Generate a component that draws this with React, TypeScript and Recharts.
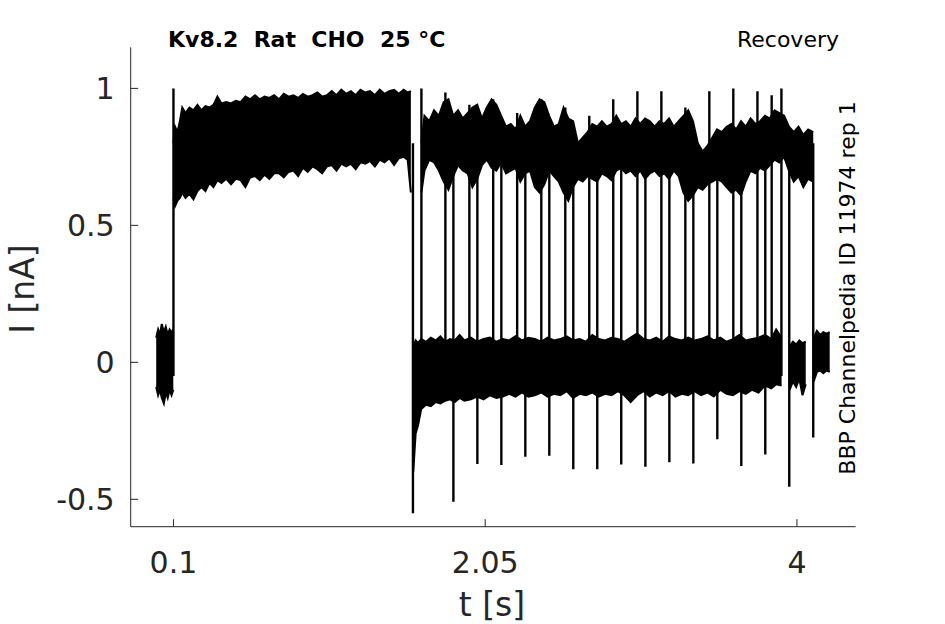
import React from "react";
import { ComposedChart, Area, Line, XAxis, YAxis } from "recharts";

// axis ticks
const xTicks = [0.1, 2.05, 4];
const yTicks = [-0.5, 0, 0.5, 1];

// holding current before the conditioning step
const preTime = [-0.008, 0.004, 0.015, 0.027, 0.04, 0.052, 0.064, 0.076, 0.088, 0.099];
const preTop = [0.09, 0.12, 0.1, 0.14, 0.11, 0.13, 0.1, 0.12, 0.11, 0.12];
const preBottom = [-0.09, -0.12, -0.1, -0.13, -0.15, -0.11, -0.13, -0.1, -0.12, -0.1];

// conditioning pulse, all sweeps overlaid (noise envelope)
const condTime = [
  0.1, 0.11, 0.125, 0.14, 0.155, 0.175, 0.2, 0.225, 0.25, 0.275, 0.3, 0.325, 0.35, 0.375, 0.4,
  0.43, 0.46, 0.49, 0.52, 0.55, 0.58, 0.61, 0.64, 0.67, 0.7, 0.73, 0.76, 0.79, 0.82, 0.85, 0.88,
  0.91, 0.94, 0.97, 1.0, 1.03, 1.06, 1.09, 1.12, 1.15, 1.18, 1.21, 1.24, 1.27, 1.3, 1.33, 1.36,
  1.39, 1.42, 1.45, 1.48, 1.51, 1.54, 1.565, 1.585,
];
const condTop = [
  0.8, 0.86, 0.84, 0.88, 0.93, 0.91, 0.93, 0.92, 0.94, 0.92, 0.935, 0.93, 0.94, 0.97, 0.945,
  0.95, 0.945, 0.955, 0.95, 0.97, 0.96, 0.975, 0.96, 0.97, 0.965, 0.975, 0.96, 0.98, 0.97, 0.975,
  0.965, 0.98, 0.97, 0.975, 0.985, 0.97, 0.975, 0.99, 0.975, 0.995, 0.98, 0.99, 0.975, 0.995,
  0.985, 0.99, 0.975, 0.995, 0.98, 0.99, 0.995, 0.98, 0.995, 0.985, 0.99,
];
const condBottom = [
  0.6, 0.57, 0.59, 0.6, 0.62, 0.6, 0.615, 0.595, 0.625, 0.64, 0.625, 0.655, 0.64, 0.665, 0.655,
  0.67, 0.65, 0.67, 0.665, 0.64, 0.675, 0.68, 0.665, 0.685, 0.67, 0.69, 0.69, 0.675, 0.695, 0.7,
  0.68, 0.71, 0.695, 0.715, 0.705, 0.69, 0.715, 0.72, 0.7, 0.725, 0.715, 0.725, 0.705, 0.73,
  0.725, 0.735, 0.715, 0.74, 0.73, 0.745, 0.72, 0.745, 0.75, 0.74, 0.62,
];

// sweeps back at holding level during the recovery interval
const restTime = [
  1.6, 1.615, 1.63, 1.65, 1.68, 1.71, 1.74, 1.77, 1.8, 1.83, 1.86, 1.89, 1.92, 1.96, 2.0, 2.04,
  2.08, 2.12, 2.16, 2.2, 2.24, 2.28, 2.32, 2.36, 2.4, 2.44, 2.48, 2.52, 2.56, 2.6, 2.64, 2.68,
  2.72, 2.76, 2.8, 2.84, 2.88, 2.92, 2.96, 3.0, 3.04, 3.08, 3.12, 3.16, 3.2, 3.24, 3.28, 3.32,
  3.36, 3.4, 3.44, 3.48, 3.52, 3.56, 3.6, 3.64, 3.68, 3.72, 3.76, 3.8, 3.84, 3.87, 3.904,
];
const restTop = [
  0.06, 0.08, 0.07, 0.085, 0.075, 0.09, 0.08, 0.095, 0.075, 0.085, 0.08, 0.1, 0.08, 0.09, 0.075,
  0.085, 0.09, 0.075, 0.085, 0.08, 0.095, 0.08, 0.09, 0.085, 0.075, 0.09, 0.08, 0.085, 0.095,
  0.08, 0.085, 0.075, 0.1, 0.085, 0.08, 0.09, 0.085, 0.075, 0.09, 0.105, 0.085, 0.08, 0.09,
  0.075, 0.095, 0.085, 0.08, 0.09, 0.08, 0.085, 0.095, 0.08, 0.09, 0.075, 0.085, 0.1, 0.08,
  0.085, 0.09, 0.1, 0.085, 0.12, 0.09,
];
const restBottom = [
  -0.4, -0.26, -0.23, -0.17, -0.155, -0.16, -0.145, -0.15, -0.14, -0.135, -0.145, -0.13, -0.14,
  -0.135, -0.125, -0.135, -0.12, -0.13, -0.125, -0.115, -0.125, -0.11, -0.125, -0.12, -0.11,
  -0.125, -0.115, -0.12, -0.105, -0.13, -0.115, -0.12, -0.11, -0.125, -0.115, -0.12, -0.105,
  -0.12, -0.145, -0.12, -0.105, -0.125, -0.11, -0.12, -0.105, -0.125, -0.115, -0.12, -0.105,
  -0.12, -0.11, -0.125, -0.1, -0.115, -0.12, -0.105, -0.115, -0.1, -0.11, -0.085, -0.095,
  -0.08, -0.085,
];

// short holding pieces at the end of the record
const endATime = [3.955, 3.975, 3.995, 4.015, 4.035, 4.055];
const endATop = [0.06, 0.075, 0.065, 0.08, 0.07, 0.075];
const endABottom = [-0.1, -0.07, -0.09, -0.06, -0.12, -0.08];
const endBTime = [4.105, 4.125, 4.145, 4.165, 4.185, 4.205];
const endBTop = [0.09, 0.115, 0.1, 0.11, 0.105, 0.11];
const endBBottom = [-0.07, -0.035, -0.03, -0.04, -0.03, -0.035];

// test pulses (overlapping sweeps)
const testTime = [
  1.651, 1.67, 1.7, 1.73, 1.76, 1.79, 1.82, 1.85, 1.88, 1.91, 1.94, 1.97, 2.0, 2.03, 2.06, 2.09,
  2.12, 2.15, 2.18, 2.21, 2.24, 2.27, 2.3, 2.33, 2.36, 2.39, 2.42, 2.45, 2.48, 2.51, 2.54, 2.57,
  2.6, 2.63, 2.66, 2.69, 2.72, 2.75, 2.78, 2.81, 2.84, 2.87, 2.9, 2.93, 2.96, 2.99, 3.02, 3.05,
  3.08, 3.11, 3.14, 3.17, 3.2, 3.23, 3.26, 3.29, 3.32, 3.35, 3.38, 3.41, 3.44, 3.47, 3.5, 3.53,
  3.56, 3.59, 3.62, 3.65, 3.68, 3.71, 3.74, 3.77, 3.8, 3.83, 3.86, 3.89, 3.92, 3.95, 3.98, 4.01,
  4.04, 4.07, 4.102,
];
const testTop = [
  0.8, 0.9, 0.88, 0.92, 0.9, 0.95, 0.96, 0.9, 0.92, 0.89, 0.91, 0.93, 0.94, 0.89, 0.93, 0.96,
  0.94, 0.9, 0.86, 0.87, 0.85, 0.9, 0.86, 0.88, 0.93, 0.96, 0.95, 0.9, 0.86, 0.87, 0.93, 0.89,
  0.88, 0.8, 0.82, 0.84, 0.87, 0.86, 0.88, 0.86, 0.87, 0.9, 0.87, 0.88, 0.86, 0.89, 0.87, 0.89,
  0.88, 0.86, 0.88, 0.87, 0.89, 0.86, 0.88, 0.9, 0.92, 0.88, 0.8, 0.77, 0.79, 0.82, 0.85, 0.84,
  0.86, 0.87, 0.85, 0.88, 0.86, 0.89, 0.87, 0.88, 0.9, 0.89, 0.92, 0.91, 0.9, 0.86, 0.84, 0.86,
  0.83, 0.85, 0.84,
];
const testBottom = [
  0.62, 0.7, 0.74, 0.73, 0.7, 0.66, 0.63, 0.68, 0.72, 0.7, 0.69, 0.64, 0.67, 0.72, 0.74, 0.71,
  0.7, 0.73, 0.69, 0.7, 0.71, 0.66, 0.69, 0.7, 0.64, 0.62, 0.65, 0.7, 0.68, 0.66, 0.62, 0.59,
  0.64, 0.67, 0.66, 0.68, 0.67, 0.66, 0.69, 0.68, 0.665, 0.7, 0.71, 0.69, 0.7, 0.68, 0.7, 0.67,
  0.69, 0.7, 0.68, 0.69, 0.67, 0.7, 0.68, 0.62, 0.59, 0.61, 0.64, 0.63, 0.65, 0.66, 0.67, 0.66,
  0.64, 0.62, 0.63, 0.61, 0.66, 0.7, 0.69, 0.71, 0.7, 0.72, 0.74, 0.73, 0.75, 0.7, 0.66, 0.68,
  0.64, 0.67, 0.66,
];

// pulse onsets: capacitive peak at the top of each step
const onsetTime = [
  0.1, 1.651, 1.801, 1.951, 2.1, 2.25, 2.401, 2.551, 2.701, 2.851, 3.002, 3.152, 3.302, 3.452,
  3.602, 3.753, 3.842, 3.903,
];
const onsetPeak = [
  1.0, 1.0, 0.985, 0.94, 0.96, 0.91, 0.96, 0.93, 0.9, 0.96, 0.99, 0.99, 0.93, 0.99, 1.0, 0.99,
  0.975, 1.0,
];

// pulse offsets: tail current at the bottom of each step
const offsetTime = [
  1.598, 1.851, 2.001, 2.151, 2.301, 2.451, 2.601, 2.751, 2.901, 3.052, 3.202, 3.352, 3.502,
  3.652, 3.802, 3.952, 4.102,
];
const offsetTrough = [
  -0.551, -0.509, -0.371, -0.375, -0.345, -0.341, -0.39, -0.39, -0.373, -0.381, -0.365, -0.369,
  -0.281, -0.378, -0.336, -0.454, -0.274,
];

const band = (time: number[], bottom: number[], top: number[]) =>
  time.map((t, i) => ({ t, r: [bottom[i], top[i]] }));

const bands = [
  band(preTime, preBottom, preTop),
  band(condTime, condBottom, condTop),
  band(restTime, restBottom, restTop),
  band(endATime, endABottom, endATop),
  band(endBTime, endBBottom, endBTop),
  band(testTime, testBottom, testTop),
];

const steps = [
  ...onsetTime.map((t, i) => [
    { t, v: -0.05 },
    { t, v: onsetPeak[i] },
  ]),
  ...offsetTime.map((t, i) => [
    { t, v: 0.8 },
    { t, v: offsetTrough[i] },
  ]),
];

const FONT = "DejaVu Sans";
const AXIS = "#262626";

export default function App() {
  return (
    <div
      style={{
        position: "absolute",
        left: 0,
        top: 0,
        width: 945,
        height: 624,
        background: "#fff",
        fontFamily: FONT,
      }}
    >
      <ComposedChart
        width={945}
        height={624}
        margin={{ top: 47.3, right: 89.4, bottom: 67.3, left: 70.7 }}
      >
        <XAxis
          dataKey="t"
          type="number"
          domain={[-0.1675, 4.367]}
          ticks={xTicks}
          allowDataOverflow
          height={30}
          stroke={AXIS}
          tickSize={-7.5}
          tickMargin={32.6}
          tick={{ fontSize: 30, fill: AXIS, fontFamily: FONT }}
        />
        <YAxis
          type="number"
          domain={[-0.6, 1.15]}
          ticks={yTicks}
          allowDataOverflow
          width={60}
          stroke={AXIS}
          tickSize={-7.5}
          tickMargin={23.5}
          tick={{ fontSize: 30, fill: AXIS, fontFamily: FONT }}
        />
        {bands.map((d, i) => (
          <Area
            key={"band" + i}
            data={d}
            dataKey="r"
            type="linear"
            stroke="#000"
            strokeWidth={2}
            fill="#000"
            fillOpacity={1}
            dot={false}
            activeDot={false}
            isAnimationActive={false}
          />
        ))}
        {steps.map((d, i) => (
          <Line
            key={"step" + i}
            data={d}
            dataKey="v"
            type="linear"
            stroke="#000"
            strokeWidth={2.4}
            dot={false}
            activeDot={false}
            isAnimationActive={false}
          />
        ))}
      </ComposedChart>
      <svg
        width={945}
        height={624}
        style={{ position: "absolute", left: 0, top: 0, pointerEvents: "none" }}
      >
        <text
          x={168}
          y={46.7}
          fontSize={22}
          fontWeight="bold"
          fill="#000"
          fontFamily={FONT}
          style={{ whiteSpace: "pre" }}
        >
          {"Kv8.2  Rat  CHO  25 °C"}
        </text>
        <text x={839} y={46.7} fontSize={22} fill="#000" fontFamily={FONT} textAnchor="end">
          Recovery
        </text>
        <text
          transform="translate(855, 288) rotate(-90)"
          fontSize={22}
          fill="#000"
          fontFamily={FONT}
          textAnchor="middle"
        >
          BBP Channelpedia ID 11974 rep 1
        </text>
        <text
          transform="translate(34, 289) rotate(-90)"
          fontSize={33}
          fill={AXIS}
          fontFamily={FONT}
          textAnchor="middle"
        >
          I [nA]
        </text>
        <text x={492} y={615.5} fontSize={33} fill={AXIS} fontFamily={FONT} textAnchor="middle">
          t [s]
        </text>
      </svg>
    </div>
  );
}
